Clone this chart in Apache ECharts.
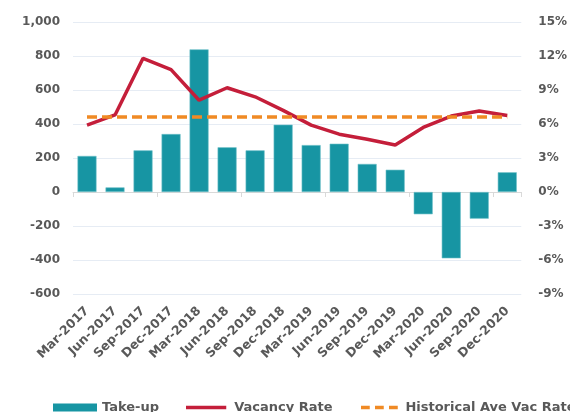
<!DOCTYPE html>
<html>
<head>
<meta charset="utf-8">
<script src="https://cdn.jsdelivr.net/npm/echarts@6/dist/echarts.min.js"></script>
<style>
  html, body { margin: 0; padding: 0; background: #fff; }
  #chart { width: 570px; height: 412px; }
</style>
</head>
<body>
<div id="chart"></div>
<script>
const quarters = ["Mar-2017", "Jun-2017", "Sep-2017", "Dec-2017", "Mar-2018", "Jun-2018",
  "Sep-2018", "Dec-2018", "Mar-2019", "Jun-2019", "Sep-2019", "Dec-2019",
  "Mar-2020", "Jun-2020", "Sep-2020", "Dec-2020"];
const takeUp = [212, 27, 245, 341, 839, 263, 245, 396, 276, 284, 165, 131, -131, -390, -157, 116];
const vacancyRate = [5.9, 6.8, 11.8, 10.8, 8.1, 9.2, 8.4, 7.2, 5.9, 5.1, 4.65, 4.15, 5.7, 6.7, 7.15, 6.75];
const historicalAvg = [6.62, 6.62, 6.62, 6.62, 6.62, 6.62, 6.62, 6.62, 6.62, 6.62, 6.62, 6.62, 6.62, 6.62, 6.62, 6.62];

const textColor = "#595959";
const font = "DejaVu Sans";
const legendText = { color: textColor, fontSize: 13, fontWeight: "bold", fontFamily: font };

var myChart = echarts.init(document.getElementById("chart"));
var option = {
  animation: false,
  textStyle: { fontFamily: font },
  grid: { left: 73, right: 40, top: 22, bottom: 118, containLabel: false },
  // one legend per item so each icon can have its own size
  legend: [
    {
      left: 48, top: 396, itemWidth: 44, itemHeight: 8, itemGap: 0,
      textStyle: legendText,
      data: [{ name: "Take-up", icon: "rect", itemStyle: { borderWidth: 0 } }],
    },
    {
      left: 181, top: 396, itemWidth: 46, itemHeight: 3.5, itemGap: 0,
      textStyle: legendText,
      data: [{ name: "Vacancy Rate", icon: "path://M0,0 H46 V4 H0 Z" }],
    },
    {
      left: 356, top: 396, itemWidth: 42, itemHeight: 3.5, itemGap: 0,
      textStyle: legendText,
      data: [{ name: "Historical Ave Vac Rate", icon: "path://M0,0 H10 V4 H0 Z M16,0 H26 V4 H16 Z M32,0 H42 V4 H32 Z" }],
    },
  ],
  xAxis: [
    {
      type: "category",
      data: quarters,
      axisLine: { onZero: true, lineStyle: { color: "#d9d9d9" } },
      axisTick: { show: true, length: 5, lineStyle: { color: "#d9d9d9" } },
      axisLabel: { show: false },
    },
    {
      type: "category",
      data: quarters,
      position: "bottom",
      axisLine: { show: false, onZero: false },
      axisTick: { show: false },
      axisLabel: {
        rotate: 45,
        margin: 15,
        color: textColor,
        fontSize: 12.5,
        fontWeight: "bold",
        fontFamily: font,
      },
    },
  ],
  yAxis: [
    {
      type: "value",
      min: -600,
      max: 1000,
      interval: 200,
      axisLine: { show: false },
      axisTick: { show: false },
      splitLine: { lineStyle: { color: "#e6ecf4" } },
      axisLabel: {
        color: textColor,
        fontSize: 12,
        fontWeight: "bold",
        margin: 13,
        formatter: (v) => v.toLocaleString("en-US"),
      },
    },
    {
      type: "value",
      min: -9,
      max: 15,
      interval: 3,
      axisLine: { show: false },
      axisTick: { show: false },
      splitLine: { show: false },
      axisLabel: {
        color: textColor,
        fontSize: 12,
        fontWeight: "bold",
        margin: 17,
        formatter: "{value}%",
      },
    },
  ],
  series: [
    {
      name: "Take-up",
      type: "bar",
      xAxisIndex: 0,
      yAxisIndex: 0,
      barWidth: 19,
      itemStyle: { color: "#1795a3", borderColor: "#6cbfc8", borderWidth: 0.6 },
      data: takeUp,
    },
    {
      name: "Vacancy Rate",
      type: "line",
      xAxisIndex: 0,
      yAxisIndex: 1,
      symbol: "none",
      lineStyle: { color: "#c41e3a", width: 3.5 },
      itemStyle: { color: "#c41e3a" },
      data: vacancyRate,
      z: 3,
    },
    {
      name: "Historical Ave Vac Rate",
      type: "line",
      xAxisIndex: 0,
      yAxisIndex: 1,
      symbol: "none",
      lineStyle: { color: "#f08a24", width: 3.5, type: [10, 5] },
      itemStyle: { color: "#f08a24" },
      data: historicalAvg,
      z: 4,
    },
  ],
};
myChart.setOption(option);
</script>
</body>
</html>
